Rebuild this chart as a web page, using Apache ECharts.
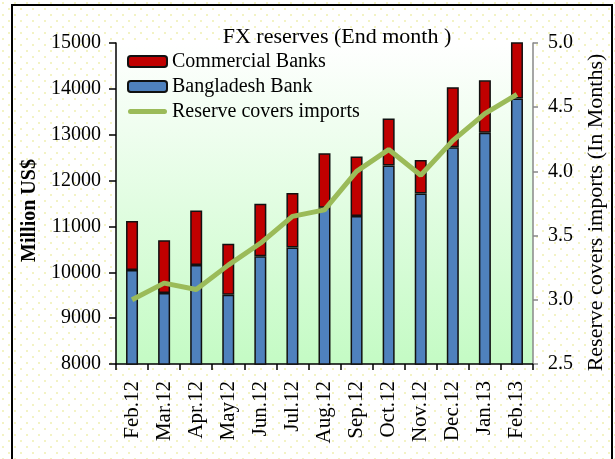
<!DOCTYPE html>
<html><head><meta charset="utf-8">
<script src="https://cdn.jsdelivr.net/npm/echarts@6/dist/echarts.min.js"></script>
<style>html,body{margin:0;padding:0;background:#fff}#c{width:615px;height:459px}</style>
</head><body><div id="c"></div>
<script>
const categories = ['Feb.12','Mar.12','Apr.12','May12','Jun.12','Jul.12','Aug.12','Sep.12','Oct.12','Nov.12','Dec.12','Jan.13','Feb.13'];
const bangladeshBank = [10050, 9550, 10160, 9510, 10350, 10540, 11410, 11230, 12330, 11720, 12725, 13045, 13790];
const commercialBanks = [1070, 1150, 1185, 1110, 1145, 1190, 1185, 1295, 1025, 730, 1310, 1140, 1380];
const reserveCovers = [3.00, 3.13, 3.08, 3.27, 3.44, 3.65, 3.70, 4.00, 4.17, 3.97, 4.24, 4.45, 4.60];
const leftTicks = {min: 8000, max: 15000, interval: 1000};
const rightTicks = {min: 2.5, max: 5.0, interval: 0.5};

const F = 'Liberation Serif';
const tile = document.createElement('canvas');
tile.width = 12; tile.height = 12;
const tctx = tile.getContext('2d');
tctx.fillStyle = '#ffffff'; tctx.fillRect(0,0,12,12);
tctx.fillStyle = '#f3f3c4'; tctx.fillRect(2,2,2,2); tctx.fillRect(8,8,2,2);

const lineIcon = 'path://M0,0L0.05,0L0,0.05Z M2.5,3 L36.5,3 A2.5,2.5 0 0 1 36.5,8 L2.5,8 A2.5,2.5 0 0 1 2.5,3 Z M39,11L38.95,11L39,10.95Z';

const chart = echarts.init(document.getElementById('c'), null, {renderer: 'canvas'});
chart.setOption({
  backgroundColor: {image: tile, repeat: 'repeat'},
  animation: false,
  title: {text: 'FX reserves (End month )', left: 332, textAlign: 'center', top: 21,
    textStyle: {fontFamily: F, fontSize: 22, fontWeight: 'normal', color: '#000'}},
  graphic: [{type: 'rect', shape: {x: 12, y: 5, width: 600, height: 470},
    style: {fill: 'none', stroke: '#000', lineWidth: 2}, silent: true}],
  legend: {orient: 'vertical', left: 122, top: 46, itemWidth: 39, itemHeight: 11, itemGap: 4,
    data: ['Commercial Banks', 'Bangladesh Bank',
      {name: 'Reserve covers imports', icon: lineIcon, itemStyle: {color: '#9BBB59', borderWidth: 0}}],
    textStyle: {fontFamily: F, fontSize: 20, color: '#000', lineHeight: 21}},
  grid: {left: 116, right: 82, top: 43, bottom: 95, show: true, borderWidth: 0,
    backgroundColor: new echarts.graphic.LinearGradient(0, 0, 0, 1, [
      {offset: 0, color: '#ffffff'}, {offset: 1, color: '#c4fbc4'}])},
  xAxis: {type: 'category', data: categories,
    axisLine: {lineStyle: {color: '#000', width: 1.5}},
    axisTick: {show: true, length: 6, lineStyle: {color: '#000', width: 1.5}},
    axisLabel: {rotate: 90, margin: 17, fontFamily: F, fontSize: 21, color: '#000'}},
  yAxis: [{type: 'value', min: leftTicks.min, max: leftTicks.max, interval: leftTicks.interval,
    name: 'Million US$', nameLocation: 'middle', nameGap: 65, nameRotate: 90,
    nameTextStyle: {fontFamily: F, fontSize: 20, fontWeight: 'bold', color: '#000', padding: [0, 0, 0, -14]},
    axisLine: {show: true, lineStyle: {color: '#000', width: 1.5}},
    axisTick: {show: true, length: 7, lineStyle: {color: '#000', width: 1.5}},
    splitLine: {show: false},
    axisLabel: {margin: 15, fontFamily: F, fontSize: 20, color: '#000', formatter: v => String(v)}},
   {type: 'value', position: 'right', min: rightTicks.min, max: rightTicks.max, interval: rightTicks.interval,
    name: 'Reserve covers imports (In Months)', nameLocation: 'middle', nameGap: 52, nameRotate: 90,
    nameTextStyle: {fontFamily: F, fontSize: 22, color: '#000', padding: [0, 0, 0, -18]},
    axisLine: {show: true, lineStyle: {color: '#888', width: 1.5}},
    axisTick: {show: true, length: 5, lineStyle: {color: '#888', width: 1.5}},
    splitLine: {show: false},
    axisLabel: {margin: 15, fontFamily: F, fontSize: 20, color: '#000', formatter: v => v.toFixed(1)}}],
  series: [
    {name: 'Bangladesh Bank', type: 'bar', stack: 'r', data: bangladeshBank, barWidth: 12,
      itemStyle: {color: '#4F81BD', borderColor: '#111', borderWidth: 1.5}},
    {name: 'Commercial Banks', type: 'bar', stack: 'r', data: commercialBanks, barWidth: 12,
      itemStyle: {color: '#C00000', borderColor: '#111', borderWidth: 1.5}},
    {name: 'Reserve covers imports', type: 'line', yAxisIndex: 1, data: reserveCovers,
      symbol: 'none', z: 5, lineStyle: {color: '#9BBB59', width: 5}, itemStyle: {color: '#9BBB59'}}
  ]
});
</script></body></html>
